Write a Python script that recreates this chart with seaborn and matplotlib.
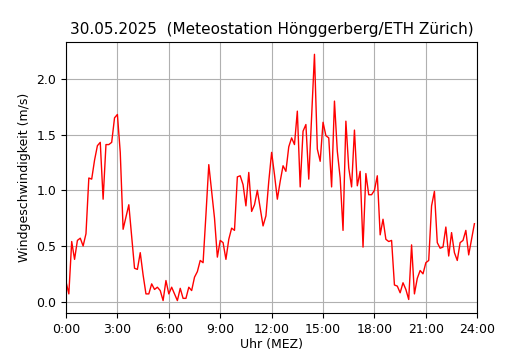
import numpy as np
import pandas as pd
import matplotlib
matplotlib.use("Agg")
import matplotlib.pyplot as plt
import seaborn as sns

# 10-Minuten-Mittel der Windgeschwindigkeit (m/s), 00:00 bis 23:50
wind_ms = [
    0.18, 0.07, 0.54, 0.38, 0.55, 0.57, 0.50, 0.61, 1.11, 1.10,
    1.27, 1.40, 1.43, 0.92, 1.41, 1.41, 1.43, 1.65, 1.68, 1.34,
    0.65, 0.76, 0.87, 0.58, 0.30, 0.29, 0.44, 0.24, 0.07, 0.07,
    0.16, 0.11, 0.13, 0.10, 0.01, 0.19, 0.07, 0.13, 0.07, 0.01,
    0.12, 0.03, 0.03, 0.13, 0.10, 0.22, 0.27, 0.37, 0.35, 0.78,
    1.23, 0.99, 0.75, 0.40, 0.55, 0.53, 0.38, 0.56, 0.66, 0.64,
    1.12, 1.13, 1.05, 0.86, 1.16, 0.81, 0.87, 1.00, 0.84, 0.68,
    0.77, 1.08, 1.34, 1.14, 0.92, 1.08, 1.22, 1.17, 1.39, 1.47,
    1.41, 1.71, 1.03, 1.53, 1.59, 1.10, 1.66, 2.22, 1.37, 1.26,
    1.61, 1.49, 1.47, 1.03, 1.80, 1.35, 1.11, 0.64, 1.62, 1.20,
    1.03, 1.54, 1.04, 1.17, 0.49, 1.15, 0.96, 0.96, 1.00, 1.13,
    0.60, 0.74, 0.56, 0.54, 0.55, 0.15, 0.14, 0.08, 0.17, 0.11,
    0.02, 0.51, 0.07, 0.21, 0.28, 0.25, 0.35, 0.37, 0.86, 0.99,
    0.53, 0.48, 0.49, 0.67, 0.41, 0.62, 0.44, 0.37, 0.53, 0.55,
    0.64, 0.42, 0.56, 0.70,
]
minutes = [10 * i for i in range(len(wind_ms))]

tick_hours = [0, 3, 6, 9, 12, 15, 18, 21, 24]
tick_labels = [f"{h}:00" for h in tick_hours]

df = pd.DataFrame({"stunde": np.array(minutes) / 60.0, "wind": wind_ms})

fig = plt.figure(figsize=(5.3, 3.5), dpi=100)
ax = fig.add_axes([0.1245, 0.106, 0.776, 0.774])

sns.lineplot(data=df, x="stunde", y="wind", ax=ax, color="red", linewidth=1)

ax.set_xlim(0, 24)
ax.set_xticks(tick_hours)
ax.set_xticklabels(tick_labels)
ax.tick_params(labelsize=9)
ax.grid(True, color="#b0b0b0", linewidth=0.8)
ax.set_axisbelow(True)
ax.set_xlabel("Uhr (MEZ)", fontsize=9, labelpad=2)
ax.set_ylabel("Windgeschwindigkeit (m/s)", fontsize=9)
ax.set_title("30.05.2025  (Meteostation Hönggerberg/ETH Zürich)", fontsize=11)

fig.savefig("out.png", dpi=100)
